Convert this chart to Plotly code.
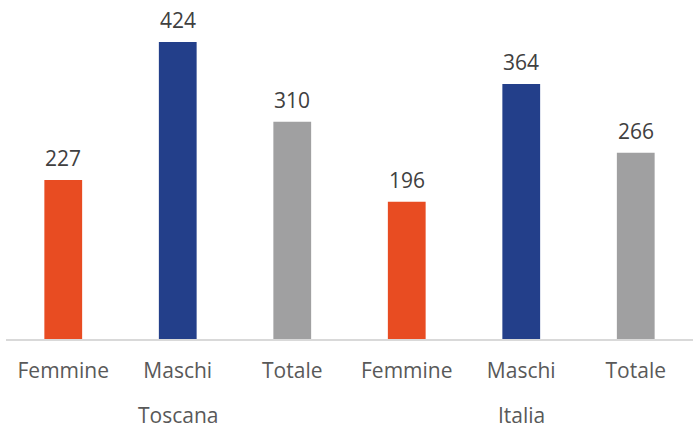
import plotly.graph_objects as go

groups = ["Toscana", "Italia"]
categories = ["Femmine", "Maschi", "Totale"]
values_toscana = [227, 424, 310]
values_italia = [196, 364, 266]
colors = ["#E84C22", "#233F8A", "#A0A0A1"]

labels = categories + categories
values = values_toscana + values_italia
bar_colors = colors + colors
xpos = list(range(len(labels)))

fig = go.Figure()
fig.add_trace(go.Bar(
    x=xpos, y=values, width=0.33,
    marker=dict(color=bar_colors, line=dict(width=0)),
    hoverinfo="skip",
))

for xi, v in zip(xpos, values):
    fig.add_annotation(x=xi, y=v, text=str(v), showarrow=False,
                       yanchor="middle", yshift=22,
                       font=dict(family="Open Sans", size=21, color="#404040"))

n = len(categories)
for gi, g in enumerate(groups):
    fig.add_annotation(x=gi * n + (n - 1) / 2, y=0, yref="paper", text=g,
                       showarrow=False, yanchor="middle", yshift=-76,
                       font=dict(family="Open Sans", size=21, color="#595959"))

fig.update_layout(
    width=693, height=429,
    margin=dict(l=6, r=0, t=0, b=90),
    paper_bgcolor="white", plot_bgcolor="white",
    showlegend=False,
    xaxis=dict(range=[-0.5, 5.5], tickvals=xpos, ticktext=labels,
               showgrid=False, zeroline=False, showline=True,
               linecolor="#D9D9D9", linewidth=1.5, ticks="",
               ticklabelstandoff=12,
               tickfont=dict(family="Open Sans", size=21, color="#595959")),
    yaxis=dict(range=[0, 484], visible=False, showgrid=False, zeroline=False),
)

fig.write_html("out.html", config={"displayModeBar": False},
               post_script="document.body.style.margin='0';document.body.style.padding='0';")
